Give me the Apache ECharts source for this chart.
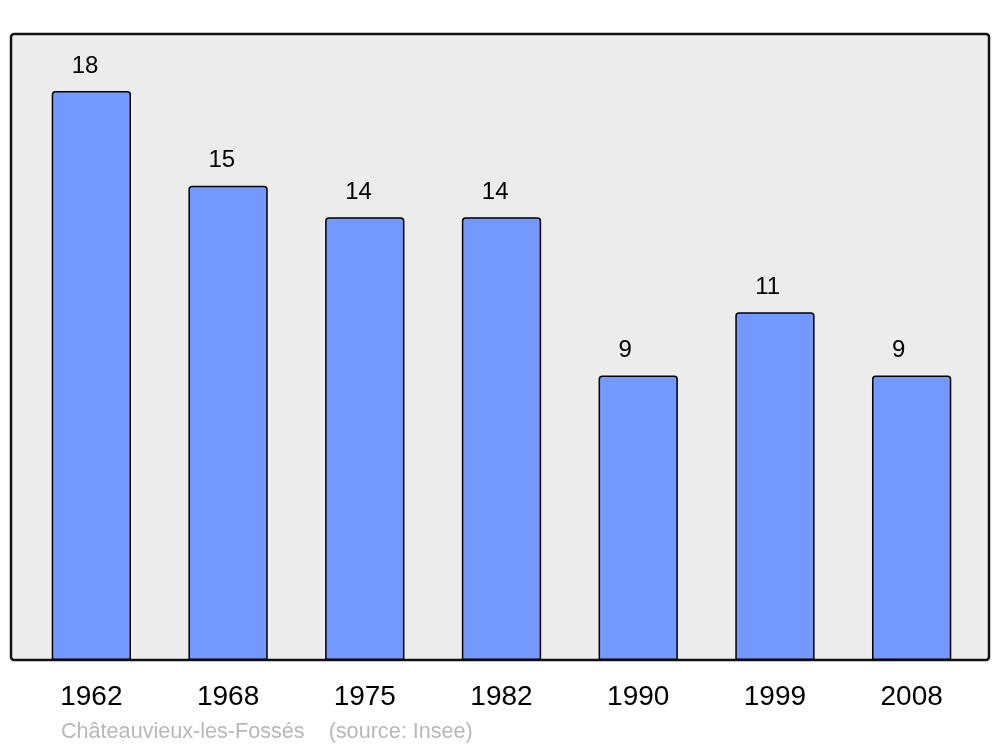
<!DOCTYPE html>
<html>
<head>
<meta charset="utf-8">
<script src="https://cdn.jsdelivr.net/npm/echarts@6/dist/echarts.min.js"></script>
<style>
  html, body { margin: 0; padding: 0; background: #fff; }
  #main { width: 1000px; height: 747px; }
</style>
</head>
<body>
<div id="main"></div>
<script>
const years = ['1962', '1968', '1975', '1982', '1990', '1999', '2008'];
const population = [18, 15, 14, 14, 9, 11, 9];
const footer = 'Châteauvieux-les-Fossés    (source: Insee)';

let chart = echarts.init(document.getElementById('main'));
chart.setOption({
  animation: false,
  backgroundColor: '#ffffff',
  graphic: [
    {
      type: 'rect',
      z: -10,
      shape: { x: 11, y: 34, width: 978, height: 626, r: 3 },
      style: { fill: '#ececec', stroke: '#111', lineWidth: 2.5 }
    },
    {
      type: 'text',
      left: 61,
      top: 721,
      style: {
        text: footer,
        fill: '#b8b8b8',
        font: '21.6px "Liberation Sans", Arial, sans-serif'
      }
    }
  ],
  grid: { left: 23, top: 34, width: 957, height: 626, containLabel: false },
  xAxis: {
    type: 'category',
    data: years,
    axisLine: { show: false },
    axisTick: { show: false },
    axisLabel: {
      margin: 23,
      color: '#000',
      fontSize: 28,
      fontFamily: '"Liberation Sans", Arial, sans-serif'
    }
  },
  yAxis: {
    type: 'value',
    min: 0,
    max: 19.8,
    show: false,
    splitLine: { show: false }
  },
  series: [{
    type: 'bar',
    data: population,
    barWidth: '58%',
    itemStyle: {
      color: '#7399ff',
      borderColor: '#000',
      borderWidth: 1.5,
      borderRadius: [3, 3, 0, 0]
    },
    label: {
      show: true,
      position: [20, -25],
      align: 'left',
      verticalAlign: 'middle',
      color: '#000',
      fontSize: 24,
      fontFamily: '"Liberation Sans", Arial, sans-serif'
    }
  }]
});
</script>
</body>
</html>
